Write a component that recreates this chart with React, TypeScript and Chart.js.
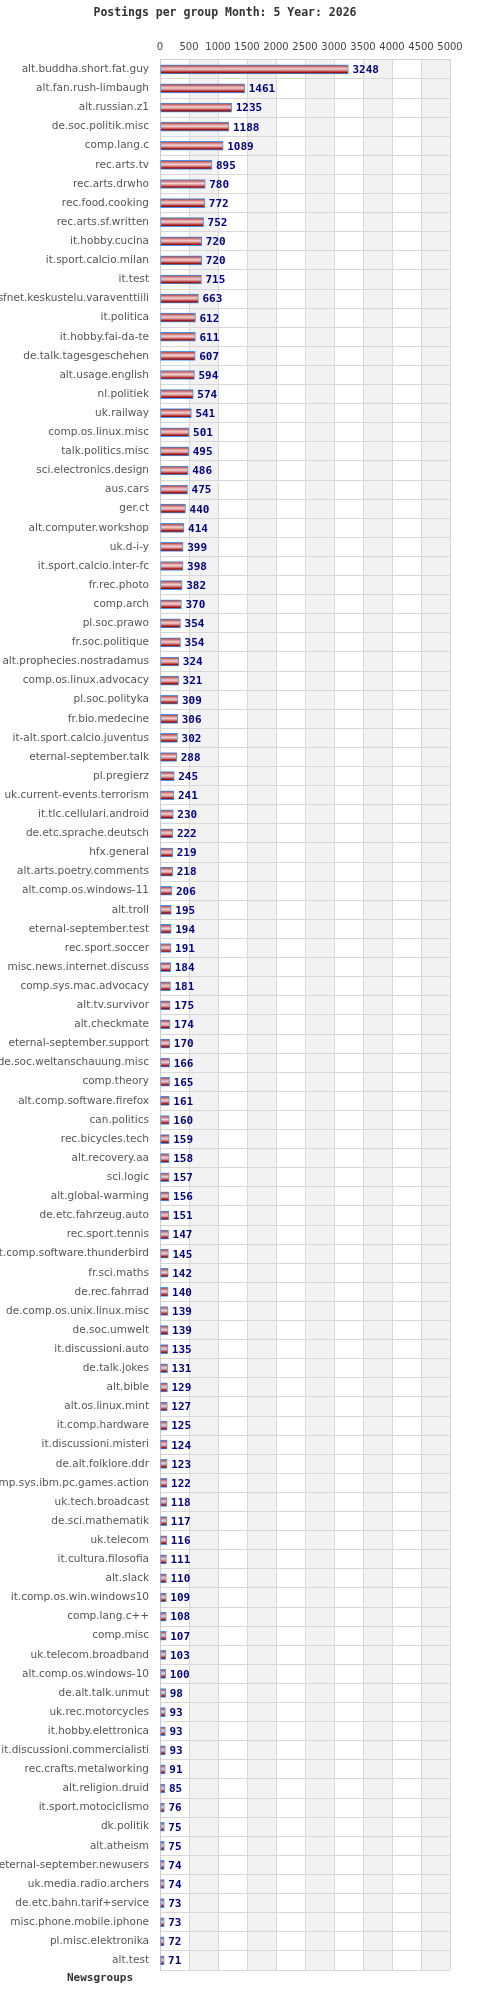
import React, { useEffect, useRef } from "react";
import { Chart, registerables } from "chart.js";

Chart.register(...registerables);

const TITLE = "Postings per group Month: 5 Year: 2026";
const AXIS_TITLE = "Newsgroups";

const groups: string[] = [
  "alt.buddha.short.fat.guy",
  "alt.fan.rush-limbaugh",
  "alt.russian.z1",
  "de.soc.politik.misc",
  "comp.lang.c",
  "rec.arts.tv",
  "rec.arts.drwho",
  "rec.food.cooking",
  "rec.arts.sf.written",
  "it.hobby.cucina",
  "it.sport.calcio.milan",
  "it.test",
  "sfnet.keskustelu.varaventtiili",
  "it.politica",
  "it.hobby.fai-da-te",
  "de.talk.tagesgeschehen",
  "alt.usage.english",
  "nl.politiek",
  "uk.railway",
  "comp.os.linux.misc",
  "talk.politics.misc",
  "sci.electronics.design",
  "aus.cars",
  "ger.ct",
  "alt.computer.workshop",
  "uk.d-i-y",
  "it.sport.calcio.inter-fc",
  "fr.rec.photo",
  "comp.arch",
  "pl.soc.prawo",
  "fr.soc.politique",
  "alt.prophecies.nostradamus",
  "comp.os.linux.advocacy",
  "pl.soc.polityka",
  "fr.bio.medecine",
  "it-alt.sport.calcio.juventus",
  "eternal-september.talk",
  "pl.pregierz",
  "uk.current-events.terrorism",
  "it.tlc.cellulari.android",
  "de.etc.sprache.deutsch",
  "hfx.general",
  "alt.arts.poetry.comments",
  "alt.comp.os.windows-11",
  "alt.troll",
  "eternal-september.test",
  "rec.sport.soccer",
  "misc.news.internet.discuss",
  "comp.sys.mac.advocacy",
  "alt.tv.survivor",
  "alt.checkmate",
  "eternal-september.support",
  "de.soc.weltanschauung.misc",
  "comp.theory",
  "alt.comp.software.firefox",
  "can.politics",
  "rec.bicycles.tech",
  "alt.recovery.aa",
  "sci.logic",
  "alt.global-warming",
  "de.etc.fahrzeug.auto",
  "rec.sport.tennis",
  "alt.comp.software.thunderbird",
  "fr.sci.maths",
  "de.rec.fahrrad",
  "de.comp.os.unix.linux.misc",
  "de.soc.umwelt",
  "it.discussioni.auto",
  "de.talk.jokes",
  "alt.bible",
  "alt.os.linux.mint",
  "it.comp.hardware",
  "it.discussioni.misteri",
  "de.alt.folklore.ddr",
  "comp.sys.ibm.pc.games.action",
  "uk.tech.broadcast",
  "de.sci.mathematik",
  "uk.telecom",
  "it.cultura.filosofia",
  "alt.slack",
  "it.comp.os.win.windows10",
  "comp.lang.c++",
  "comp.misc",
  "uk.telecom.broadband",
  "alt.comp.os.windows-10",
  "de.alt.talk.unmut",
  "uk.rec.motorcycles",
  "it.hobby.elettronica",
  "it.discussioni.commercialisti",
  "rec.crafts.metalworking",
  "alt.religion.druid",
  "it.sport.motociclismo",
  "dk.politik",
  "alt.atheism",
  "eternal-september.newusers",
  "uk.media.radio.archers",
  "de.etc.bahn.tarif+service",
  "misc.phone.mobile.iphone",
  "pl.misc.elektronika",
  "alt.test",
];

const postings: number[] = [
  3248, 1461, 1235, 1188, 1089, 895, 780, 772, 752, 720,
  720, 715, 663, 612, 611, 607, 594, 574, 541, 501,
  495, 486, 475, 440, 414, 399, 398, 382, 370, 354,
  354, 324, 321, 309, 306, 302, 288, 245, 241, 230,
  222, 219, 218, 206, 195, 194, 191, 184, 181, 175,
  174, 170, 166, 165, 161, 160, 159, 158, 157, 156,
  151, 147, 145, 142, 140, 139, 139, 135, 131, 129,
  127, 125, 124, 123, 122, 118, 117, 116, 111, 110,
  109, 108, 107, 103, 100, 98, 93, 93, 93, 91,
  85, 76, 75, 75, 74, 74, 73, 73, 72, 71,
];

const xMin = 0;
const xMax = 5000;
const xStep = 500;

const BAR_H = 9;
const MONO = "'DejaVu Sans Mono', 'Liberation Mono', monospace";
const SANS = "'DejaVu Sans', Verdana, sans-serif";

const bandsPlugin = {
  id: "bands",
  beforeDraw(chart: any) {
    const { ctx, chartArea } = chart;
    const x = chart.scales.x;
    if (!chartArea || !x) return;
    ctx.save();
    ctx.fillStyle = "#f2f2f2";
    let i = 0;
    for (let v = xMin; v < xMax; v += xStep, i++) {
      if (i % 2 === 1) {
        const a = x.getPixelForValue(v);
        const b = x.getPixelForValue(v + xStep);
        ctx.fillRect(a, chartArea.top, b - a, chartArea.bottom - chartArea.top);
      }
    }
    ctx.restore();
  },
};

const valueLabelPlugin = {
  id: "valueLabels",
  afterDatasetsDraw(chart: any) {
    const { ctx } = chart;
    const meta = chart.getDatasetMeta(0);
    const data = chart.data.datasets[0].data as number[];
    ctx.save();
    ctx.font = `bold 11px ${MONO}`;
    ctx.fillStyle = "#000080";
    ctx.textAlign = "left";
    ctx.textBaseline = "middle";
    meta.data.forEach((el: any, i: number) => {
      ctx.fillText(String(data[i]), el.x + 4, el.y + 1);
    });
    ctx.restore();
  },
};

const axisTitlePlugin = {
  id: "axisTitle",
  afterDraw(chart: any) {
    const { ctx, chartArea } = chart;
    ctx.save();
    ctx.font = `bold 11px ${MONO}`;
    ctx.fillStyle = "#333333";
    ctx.textAlign = "center";
    ctx.textBaseline = "middle";
    ctx.fillText(AXIS_TITLE, chartArea.left - 60, chartArea.bottom + 8);
    ctx.restore();
  },
};

export default function App() {
  const ref = useRef<HTMLCanvasElement | null>(null);

  useEffect(() => {
    if (!ref.current) return;
    const chart = new Chart(ref.current, {
      type: "bar",
      data: {
        labels: groups,
        datasets: [
          {
            data: postings,
            barThickness: BAR_H,
            borderWidth: 1,
            borderColor: "#4a96ec",
            borderSkipped: false,
            backgroundColor: (c: any) => {
              const ch = c.chart;
              const y = ch.scales && ch.scales.y;
              if (c.type !== "data" || !y || !ch.chartArea) return "#c06060";
              const mid = y.getPixelForValue(c.dataIndex);
              const g = ch.ctx.createLinearGradient(0, mid - BAR_H / 2, 0, mid + BAR_H / 2);
              g.addColorStop(0, "#9a2020");
              g.addColorStop(0.22, "#d38080");
              g.addColorStop(0.45, "#f2d2d2");
              g.addColorStop(0.65, "#d08080");
              g.addColorStop(0.82, "#a81818");
              g.addColorStop(1, "#700000");
              return g;
            },
          },
        ],
      },
      options: {
        indexAxis: "y",
        responsive: false,
        animation: false,
        layout: { padding: { left: 0, right: 30, top: 0, bottom: 30 } },
        plugins: {
          legend: { display: false },
          tooltip: { enabled: false },
          title: {
            display: true,
            text: TITLE,
            color: "#333333",
            font: { family: MONO, size: 11.5, weight: "bold" },
            padding: { top: 6, bottom: 10 },
          },
        },
        scales: {
          x: {
            position: "top",
            min: xMin,
            max: xMax,
            ticks: {
              stepSize: xStep,
              color: "#444444",
              font: { family: SANS, size: 10 },
              padding: 6,
              maxRotation: 0,
              callback: (v: any) => String(v),
            },
            grid: { color: "#d8d8d8", drawTicks: false, lineWidth: 1 },
            border: { color: "#d0d0d0" },
            afterFit: (s: any) => {
              s.height = 30;
            },
          },
          y: {
            ticks: {
              color: "#555555",
              font: { family: SANS, size: 10.5 },
              padding: 11,
              autoSkip: false,
            },
            grid: { color: "#d8d8d8", drawTicks: false, offset: true },
            border: { color: "#cccccc" },
            afterFit: (s: any) => {
              s.width = 160;
            },
          },
        },
      },
      plugins: [bandsPlugin, valueLabelPlugin, axisTitlePlugin],
    } as any);
    return () => chart.destroy();
  }, []);

  return (
    <div style={{ position: "absolute", left: 0, top: 0, width: 480, height: 2000, background: "#ffffff" }}>
      <canvas ref={ref} width={480} height={2000} />
    </div>
  );
}
